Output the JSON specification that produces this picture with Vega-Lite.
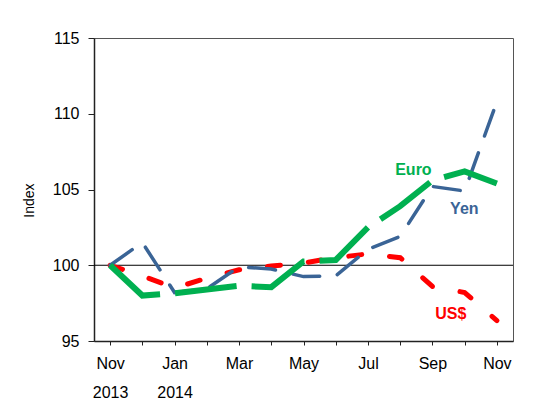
{
  "$schema": "https://vega.github.io/schema/vega-lite/v6.json",
  "width": 419,
  "height": 303,
  "autosize": "none",
  "padding": {"left": 94, "top": 38, "right": 36, "bottom": 78},
  "background": "white",
  "config": {
    "font": "Liberation Sans",
    "view": {"stroke": "#555555", "strokeWidth": 1},
    "axis": {
      "domainColor": "#222222",
      "domainWidth": 1.5,
      "tickColor": "#222222",
      "tickWidth": 1,
      "labelColor": "#000000",
      "labelFont": "Liberation Sans",
      "titleFont": "Liberation Sans",
      "titleColor": "#000000",
      "grid": false
    }
  },
  "datasets": {
    "series": [
      {"month": "Nov 2013", "i": 0, "currency": "Euro", "index": 100},
      {"month": "Dec 2013", "i": 1, "currency": "Euro", "index": 98.0},
      {"month": "Jan 2014", "i": 2, "currency": "Euro", "index": 98.15},
      {"month": "Feb 2014", "i": 3, "currency": "Euro", "index": 98.4},
      {"month": "Mar 2014", "i": 4, "currency": "Euro", "index": 98.65},
      {"month": "Apr 2014", "i": 5, "currency": "Euro", "index": 98.55},
      {"month": "May 2014", "i": 6, "currency": "Euro", "index": 100.25},
      {"month": "Jun 2014", "i": 7, "currency": "Euro", "index": 100.35},
      {"month": "Jul 2014", "i": 8, "currency": "Euro", "index": 102.5},
      {"month": "Aug 2014", "i": 9, "currency": "Euro", "index": 103.9},
      {"month": "Sep 2014", "i": 10, "currency": "Euro", "index": 105.6},
      {"month": "Oct 2014", "i": 11, "currency": "Euro", "index": 106.2},
      {"month": "Nov 2014", "i": 12, "currency": "Euro", "index": 105.4},
      {"month": "Nov 2013", "i": 0, "currency": "Yen", "index": 100},
      {"month": "Dec 2013", "i": 1, "currency": "Yen", "index": 101.5},
      {"month": "Jan 2014", "i": 2, "currency": "Yen", "index": 98.2},
      {"month": "Feb 2014", "i": 3, "currency": "Yen", "index": 98.45},
      {"month": "Mar 2014", "i": 4, "currency": "Yen", "index": 99.9},
      {"month": "Apr 2014", "i": 5, "currency": "Yen", "index": 99.75},
      {"month": "May 2014", "i": 6, "currency": "Yen", "index": 99.25},
      {"month": "Jun 2014", "i": 7, "currency": "Yen", "index": 99.3},
      {"month": "Jul 2014", "i": 8, "currency": "Yen", "index": 101.05},
      {"month": "Aug 2014", "i": 9, "currency": "Yen", "index": 101.9},
      {"month": "Sep 2014", "i": 10, "currency": "Yen", "index": 105.2},
      {"month": "Oct 2014", "i": 11, "currency": "Yen", "index": 104.9},
      {"month": "Nov 2014", "i": 12, "currency": "Yen", "index": 110.8},
      {"month": "Nov 2013", "i": 0, "currency": "US$", "index": 100},
      {"month": "Dec 2013", "i": 1, "currency": "US$", "index": 99.3},
      {"month": "Jan 2014", "i": 2, "currency": "US$", "index": 98.5},
      {"month": "Feb 2014", "i": 3, "currency": "US$", "index": 99.15},
      {"month": "Mar 2014", "i": 4, "currency": "US$", "index": 99.7},
      {"month": "Apr 2014", "i": 5, "currency": "US$", "index": 99.95},
      {"month": "May 2014", "i": 6, "currency": "US$", "index": 100.15},
      {"month": "Jun 2014", "i": 7, "currency": "US$", "index": 100.5},
      {"month": "Jul 2014", "i": 8, "currency": "US$", "index": 100.75},
      {"month": "Aug 2014", "i": 9, "currency": "US$", "index": 100.5},
      {"month": "Sep 2014", "i": 10, "currency": "US$", "index": 98.6},
      {"month": "Oct 2014", "i": 11, "currency": "US$", "index": 98.2},
      {"month": "Nov 2014", "i": 12, "currency": "US$", "index": 96.35}
    ],
    "labels": [
      {"currency": "Euro", "i": 9.41, "index": 106.31},
      {"currency": "Yen", "i": 10.99, "index": 103.74},
      {"currency": "US$", "i": 10.57, "index": 96.75}
    ],
    "baseline": [
      {"from": -0.5, "to": 12.5, "index": 100}
    ]
  },
  "encoding": {
    "x": {
      "field": "i",
      "type": "quantitative",
      "title": null,
      "scale": {"domain": [-0.5, 12.5], "nice": false, "zero": false},
      "axis": {
        "values": [0, 1, 2, 3, 4, 5, 6, 7, 8, 9, 10, 11, 12],
        "labelExpr": "[['Nov','2013'],'',['Jan','2014'],'','Mar','','May','','Jul','','Sep','','Nov'][datum.value]",
        "labelFontSize": 16,
        "labelLineHeight": 29,
        "labelPadding": 10,
        "tickSize": 4,
        "labelOverlap": false,
        "labelFlush": false,
        "labelBound": false
      }
    },
    "y": {
      "field": "index",
      "type": "quantitative",
      "title": "Index",
      "scale": {"domain": [95, 115], "nice": false, "zero": false},
      "axis": {
        "values": [95, 100, 105, 110, 115],
        "labelFontSize": 16,
        "labelPadding": 9,
        "tickSize": 6,
        "titleFontSize": 14,
        "titleFontWeight": "normal",
        "titleAngle": -90,
        "titleX": -65,
        "titleY": 162,
        "titleAlign": "center",
        "titleBaseline": "middle"
      }
    },
    "color": {
      "field": "currency",
      "type": "nominal",
      "scale": {"domain": ["Euro", "Yen", "US$"], "range": ["#00B050", "#3A6496", "#FF0000"]},
      "legend": null
    }
  },
  "layer": [
    {
      "data": {"name": "baseline"},
      "mark": {"type": "rule", "color": "#000000", "strokeWidth": 1},
      "encoding": {
        "x": {"field": "from", "type": "quantitative", "title": null},
        "x2": {"field": "to"},
        "color": {"value": "#000000"}
      }
    },
    {
      "data": {"name": "series"},
      "transform": [{"filter": "datum.currency == 'US$'"}],
      "mark": {"type": "line", "strokeWidth": 5, "strokeDash": [13, 28], "strokeCap": "round"}
    },
    {
      "data": {"name": "series"},
      "transform": [{"filter": "datum.currency == 'Yen'"}],
      "mark": {"type": "line", "strokeWidth": 3.5, "strokeDash": [27, 18], "strokeCap": "round"}
    },
    {
      "data": {"name": "series"},
      "transform": [{"filter": "datum.currency == 'Euro'"}],
      "mark": {"type": "line", "strokeWidth": 6, "strokeDash": [62, 15], "strokeCap": "butt"}
    },
    {
      "data": {"name": "labels"},
      "mark": {"type": "text", "fontSize": 16, "fontWeight": "bold", "align": "center", "baseline": "middle"},
      "encoding": {"text": {"field": "currency"}}
    }
  ]
}
